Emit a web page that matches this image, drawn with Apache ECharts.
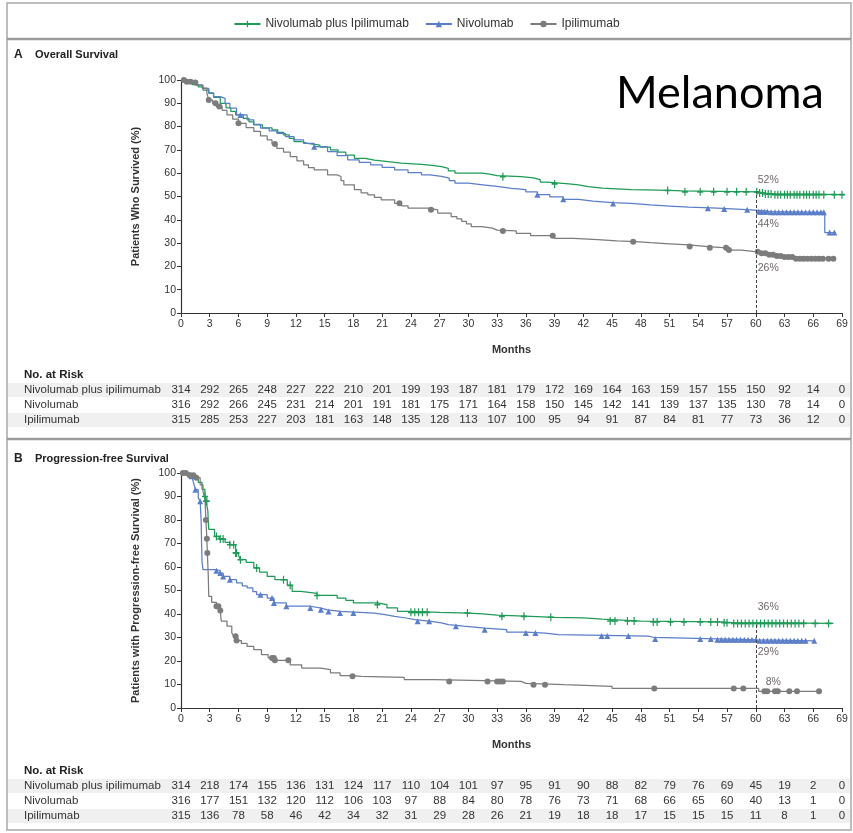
<!DOCTYPE html>
<html>
<head>
<meta charset="utf-8">
<script src="https://cdn.jsdelivr.net/npm/echarts@6/dist/echarts.min.js"></script>
<style>
  html, body { margin: 0; padding: 0; background: #fff; }
  #c { width: 853px; height: 833px; }
</style>
</head>
<body>
<div id="c"></div>
<script>
// ---- Kaplan-Meier curves: [month, percent] step points ----
const osNivoIpi = [[0,100],[0.6,99],[1.2,98],[1.8,97],[2.3,95.7],[2.9,94.3],[3.4,92.5],[4.1,90],[4.7,88],[5.2,86.5],[5.7,85],[6.5,83.5],[7.1,82],[7.6,80.7],[8.5,79.5],[9.5,78.6],[10.1,77.5],[10.7,76.4],[11.3,75],[11.8,73.6],[12.5,72.8],[13.2,72.1],[14.5,71.2],[15.6,70],[16.4,69],[17.2,67.8],[18.1,66.4],[19.2,65.6],[20.2,65],[21.6,64.3],[23,63.8],[25.1,63.4],[26.2,62.8],[27.2,62.1],[27.9,61],[28.6,60],[31.4,59.6],[32.2,59],[33,58.5],[35.5,58],[36.8,57.2],[37.5,56.2],[38.2,55.4],[40.5,55],[41.5,54.2],[42.5,53.6],[44,53],[47,52.6],[51,52.4],[52.3,52],[60.2,51.5],[61,51.1],[62,50.8],[69.2,50.8]];
const osNivo = [[0,100],[0.5,99.4],[1,98.8],[1.6,97.8],[2.3,96.4],[2.9,94.5],[3.4,92.9],[4.1,92.1],[4.6,90],[5.1,87.9],[5.8,85],[6.9,82.9],[7.6,81],[8.3,79.3],[9.2,78.2],[10,77.1],[10.9,75.7],[11.8,74.3],[12.8,72.8],[13.9,71.4],[15.3,69.3],[16.3,67.5],[17.4,65.7],[18.6,64.6],[19.8,63.6],[21,62.5],[22.3,61.4],[23.7,60.3],[25.1,59.3],[26,58.6],[27.2,57.9],[28,56.8],[28.6,55.7],[30,55],[31.5,54.3],[33,53.5],[34.5,53],[36,52],[37.2,50.8],[38.5,49.8],[39.9,48.8],[41.5,48],[43,47.4],[45,47],[47,46.4],[49,45.9],[51,45.4],[53,45],[56,44.6],[58,44.3],[59.5,44],[60.3,43.5],[61.5,43.2],[67.2,34.5],[68.3,34.5]];
const osIpi = [[0,100],[0.6,99.3],[1.2,98.9],[1.6,97.9],[2.2,96.5],[2.7,94.3],[2.9,91.4],[3.3,90],[3.7,88.6],[4.3,87],[4.8,85],[5.4,83.2],[6,81.4],[6.8,79.6],[7.6,77.9],[8.3,76],[9,74.3],[9.5,72.5],[10,70.7],[10.7,69],[11.4,67.1],[12.1,65.3],[12.8,63.6],[13.3,62.4],[13.9,61.4],[15.3,59.3],[16.3,58.6],[16.7,56.8],[17,55],[18.1,52.9],[18.8,51.6],[19.5,50.7],[20.2,49.6],[20.9,48.6],[22.3,47.1],[23,46],[23.7,45],[25.8,44.3],[26.8,42.9],[28.2,41.4],[28.8,40.4],[29.3,39.3],[29.8,38.2],[30.3,37.1],[31.4,36.4],[32.5,35.6],[33,35.2],[35,34.2],[36.5,33.2],[39,32],[41,31.5],[43.5,31],[45.5,30.6],[47.5,30.2],[49,29.7],[51,29.2],[53,28.5],[55,28],[57,27],[58.5,26.5],[59.7,26.3],[60.5,25.6],[61.3,25],[62,24.5],[63,24],[64,23.3],[68.2,23.3]];

const pfsNivoIpi = [[0,100],[1.0,99.5],[1.4,98],[1.8,96],[2.2,93],[2.5,90],[2.6,88],[2.8,84],[2.85,79],[2.9,76],[3.5,73],[4.0,71.9],[4.6,70.5],[5.1,69.5],[5.7,66],[6.0,65],[6.2,63.1],[6.8,62],[7.6,59.6],[8.2,57.8],[9,56],[9.8,54.6],[11.1,52.2],[11.6,49.6],[12.5,48.8],[14.2,47.9],[16.3,46.8],[17.2,45.8],[18,44.7],[20.5,44],[21.5,42.6],[22.6,41.1],[24,40.7],[27,40.4],[30,40.1],[31.5,39.5],[33,39],[36.5,38.6],[39,38.3],[42,37.8],[44,37],[48,36.6],[56.5,36.3],[57.5,36],[68.1,36]];
const pfsNivo = [[0,100],[1.1,98.6],[1.3,96],[1.5,92.9],[1.8,89.4],[2.0,88],[2.1,80],[2.15,70],[2.2,62],[2.3,58.9],[3.7,58.4],[4.1,57.4],[4.4,56],[5.1,54.6],[5.8,53.2],[6.4,52],[6.9,51.1],[7.5,49.5],[7.9,48.2],[9,46.8],[9.7,44.7],[11,43.3],[13.5,42.6],[14.5,41.8],[15.3,41.1],[16.6,40.4],[20.2,39.7],[21.3,39],[22.3,38.3],[23.5,37.6],[24.4,36.9],[26.1,36.2],[27.2,35.5],[27.9,34.8],[29.5,34],[31.7,33.3],[34,32.3],[36,31.9],[38,31.2],[39.4,30.6],[48.8,30.1],[49.3,29.4],[56,29],[60.2,28.6],[66.2,28.6]];
const pfsIpi = [[0,100],[0.8,99],[1.5,98],[2.0,95],[2.3,92],[2.5,89],[2.6,80],[2.7,72],[2.75,66],[2.85,56],[2.9,47.5],[3.2,45],[3.7,43.3],[4.1,41.5],[4.2,37],[4.8,34.8],[5.3,32],[5.5,30.5],[5.8,28.7],[6.3,27.5],[6.9,26.2],[7.6,24.8],[8.4,22.7],[9.1,21.3],[9.8,20.3],[11.4,18.4],[12.6,17],[14.6,16.3],[15.6,14.9],[16.6,13.8],[17.9,13.5],[18.8,13],[23.3,12.1],[26.4,11.3],[35.5,10.5],[36,9.9],[40,9.2],[45,8.3],[60.3,7.1],[66.8,7.1]];

// ---- censoring times (months) ----
const osCensNivoIpi = [33.6,39,50.8,52.6,54.2,55.6,57,58,59,60.1,60.4,60.7,61,61.3,61.6,62,62.3,62.6,63,63.3,63.6,64,64.3,64.6,65,65.3,65.6,66,66.3,66.6,67.1,68.2,69];
const osCensNivo = [6.2,13.9,37.2,39.9,45.1,55,56.7,59.1,60.3,60.6,60.9,61.2,61.6,62,62.4,62.8,63.2,63.6,64,64.4,64.8,65.2,65.6,66,66.4,66.8,67.1,67.7,68.2];
const osCensIpi = [0.3,0.6,1.0,1.5,2.9,3.6,4.0,6.0,9.8,22.8,26.1,33.6,38.8,47.2,53.1,55.2,56.9,57.2,60.2,60.6,61,61.4,61.8,62.2,62.6,63,63.4,63.8,64.2,64.6,65,65.4,65.8,66.2,66.6,67,67.6,68.1];
const pfsCensNivoIpi = [2.5,2.6,2.7,3.7,4.1,4.4,5.1,5.5,5.7,5.8,6.2,7.9,10.7,11.4,14.2,20.5,24,24.4,24.8,25.2,25.7,29.9,33.5,35.8,38.6,44.8,45.3,46.6,47.3,49.3,49.7,51.1,52.5,54.2,55.3,56,56.7,57,57.7,58.1,58.5,58.9,59.3,59.7,60.1,60.5,60.9,61.3,61.7,62.1,62.5,62.9,63.3,63.7,64.1,64.5,65,66.2,67.6];
const pfsCensNivo = [1.1,1.5,2.0,3.7,4.1,4.4,5.1,8.3,9.5,9.7,11,13.5,14.6,15.4,16.6,18,24.7,25.9,28.7,31.7,36,37,43.9,44.5,46.7,49.5,54.2,55.3,56,56.4,56.8,57.2,57.6,58,58.4,58.8,59.2,59.6,60,60.4,60.8,61.2,61.6,62,62.4,62.8,63.2,63.6,64,64.4,64.8,65.2,66.1];
const pfsCensIpi = [0.2,0.5,0.9,1.3,1.6,2.6,2.7,2.75,3.7,3.9,4.1,5.7,5.8,9.5,9.7,9.8,11.2,17.9,28,32,33,33.3,33.6,36.8,38,49.4,57.7,58.7,60.9,61.2,62,62.3,63.5,64.3,66.6];

// ---- number at risk ----
const riskMonths = [0,3,6,9,12,15,18,21,24,27,30,33,36,39,42,45,48,51,54,57,60,63,66,69];
const osRiskNivoIpi = [314,292,265,248,227,222,210,201,199,193,187,181,179,172,169,164,163,159,157,155,150,92,14,0];
const osRiskNivo = [316,292,266,245,231,214,201,191,181,175,171,164,158,150,145,142,141,139,137,135,130,78,14,0];
const osRiskIpi = [315,285,253,227,203,181,163,148,135,128,113,107,100,95,94,91,87,84,81,77,73,36,12,0];
const pfsRiskNivoIpi = [314,218,174,155,136,131,124,117,110,104,101,97,95,91,90,88,82,79,76,69,45,19,2,0];
const pfsRiskNivo = [316,177,151,132,120,112,106,103,97,88,84,80,78,76,73,71,68,66,65,60,40,13,1,0];
const pfsRiskIpi = [315,136,78,58,46,42,34,32,31,29,28,26,21,19,18,18,17,15,15,15,11,8,1,0];

const seriesNames = ['Nivolumab plus Ipilimumab', 'Nivolumab', 'Ipilimumab'];
const riskRowNames = ['Nivolumab plus ipilimumab', 'Nivolumab', 'Ipilimumab'];
const landmarkMonth = 60;

// ---- styling ----
const FONT = "'Liberation Sans', Arial, sans-serif";
const INK = '#333';
const COLORS = ['#1e9b57', '#5b7ec9', '#7c7c7c'];
const SYMBOLS = ['path://M2,0H3V2H5V3H3V5H2V3H0V2H2Z', 'triangle', 'circle'];
const SYM_SIZE = [[6, 8], 6, 6];

// value of a step curve at time t
function valueAt(curve, t) {
  let v = curve[0][1];
  for (const p of curve) { if (p[0] <= t) v = p[1]; else break; }
  return v;
}

const panels = [
  { letter: 'A', title: 'Overall Survival', yName: 'Patients Who Survived (%)',
    curves: [osNivoIpi, osNivo, osIpi], cens: [osCensNivoIpi, osCensNivo, osCensIpi],
    risk: [osRiskNivoIpi, osRiskNivo, osRiskIpi],
    grid: { left: 181, top: 80, width: 661, height: 233 },
    labelOffset: [[0, -12], [0, 14], [0, 16]], headerY: 55, riskY: [375, 390, 405, 420] },
  { letter: 'B', title: 'Progression-free Survival', yName: 'Patients with Progression-free Survival (%)',
    curves: [pfsNivoIpi, pfsNivo, pfsIpi], cens: [pfsCensNivoIpi, pfsCensNivo, pfsCensIpi],
    risk: [pfsRiskNivoIpi, pfsRiskNivo, pfsRiskIpi],
    grid: { left: 181, top: 473, width: 661, height: 235 },
    labelOffset: [[0, -16], [0, 12], [8, -6]], headerY: 459, riskY: [771, 786, 801, 816] }
];

const grids = [], xAxes = [], yAxes = [], series = [];
panels.forEach((p, gi) => {
  grids.push(p.grid);
  xAxes.push({
    gridIndex: gi, type: 'value', min: 0, max: 69, interval: 3,
    axisLine: { show: true, lineStyle: { color: INK, width: 1.2 } },
    axisTick: { show: true, length: 4, lineStyle: { color: INK } },
    axisLabel: { fontSize: 10.5, color: INK, fontFamily: FONT, margin: 6 },
    splitLine: { show: false },
    name: 'Months', nameLocation: 'middle', nameGap: 31,
    nameTextStyle: { fontSize: 11, fontWeight: 'bold', color: INK, fontFamily: FONT }
  });
  yAxes.push({
    gridIndex: gi, type: 'value', min: 0, max: 100, interval: 10,
    axisLine: { show: true, lineStyle: { color: INK, width: 1.2 } },
    axisTick: { show: true, length: 4, lineStyle: { color: INK } },
    axisLabel: { fontSize: 10.5, color: INK, fontFamily: FONT, margin: 5 },
    splitLine: { show: false },
    name: p.yName, nameLocation: 'middle', nameGap: 40, nameRotate: 90,
    nameTextStyle: { fontSize: 11, fontWeight: 'bold', color: INK, fontFamily: FONT }
  });
  p.curves.forEach((curve, k) => {
    series.push({
      type: 'line', name: seriesNames[k], xAxisIndex: gi, yAxisIndex: gi,
      data: curve, step: 'end', symbol: SYMBOLS[k], symbolSize: SYM_SIZE[k], showSymbol: false,
      lineStyle: { color: COLORS[k], width: 1.25 }, itemStyle: { color: COLORS[k] },
      silent: true, z: 2
    });
    series.push({
      type: 'scatter', xAxisIndex: gi, yAxisIndex: gi,
      data: p.cens[k].map(t => [t, valueAt(curve, t)]),
      symbol: SYMBOLS[k], symbolSize: SYM_SIZE[k],
      itemStyle: { color: COLORS[k], opacity: 1 }, silent: true, z: 3
    });
  });
  // landmark percentages at 60 months plus the dashed reference line
  series.push({
    type: 'scatter', xAxisIndex: gi, yAxisIndex: gi, symbolSize: 0, silent: true, z: 4,
    data: p.curves.map((c, k) => ({
      value: [landmarkMonth, valueAt(c, landmarkMonth)],
      label: { offset: p.labelOffset[k] }
    })),
    label: {
      show: true, position: 'right', distance: 2,
      formatter: d => Math.round(d.value[1]) + '%',
      fontSize: 10.5, color: '#4a4040', fontFamily: FONT
    },
    markLine: {
      silent: true, symbol: ['none', 'none'], label: { show: false },
      lineStyle: { color: '#444', type: [3, 2], width: 1 },
      data: [[{ coord: [landmarkMonth, 0] }, { coord: [landmarkMonth, valueAt(p.curves[0], landmarkMonth)] }]]
    }
  });
});

const chart = echarts.init(document.getElementById('c'));
chart.setOption({
  animation: false,
  backgroundColor: '#fff',
  textStyle: { fontFamily: FONT },
  legend: {
    data: seriesNames, top: 13, left: 'center',
    itemWidth: 26, itemHeight: 8, itemGap: 16,
    textStyle: { fontSize: 12, color: INK, fontFamily: FONT }
  },
  grid: grids, xAxis: xAxes, yAxis: yAxes, series: series
});

// frame, panel headings and the number-at-risk tables
const g = [];
g.push({ type: 'rect', shape: { x: 7, y: 3, width: 844, height: 827 },
  style: { fill: 'none', stroke: '#a8a8a8', lineWidth: 1.5 }, z: 0 });
[39, 439].forEach(y => g.push({ type: 'line', shape: { x1: 7, y1: y, x2: 851, y2: y },
  style: { stroke: '#9a9a9a', lineWidth: 2.5 }, z: 0 }));

panels.forEach((p, gi) => {
  g.push({ type: 'text', style: { x: 14, y: p.headerY, text: p.letter, font: 'bold 12px ' + FONT,
    fill: '#222', textVerticalAlign: 'middle' } });
  g.push({ type: 'text', style: { x: 35, y: p.headerY, text: p.title, font: 'bold 11px ' + FONT,
    fill: '#222', textVerticalAlign: 'middle' } });
  g.push({ type: 'text', style: { x: 24, y: p.riskY[0], text: 'No. at Risk', font: 'bold 11.5px ' + FONT,
    fill: '#222', textVerticalAlign: 'middle' } });
  [0, 2].forEach(r => g.push({ type: 'rect', z: -1,
    shape: { x: 8, y: p.riskY[r + 1] - 7, width: 842, height: 14 },
    style: { fill: '#f0f0f0' } }));
  p.risk.forEach((row, r) => {
    const y = p.riskY[r + 1];
    g.push({ type: 'text', style: { x: 24, y: y, text: riskRowNames[r], font: '11.5px ' + FONT,
      fill: INK, textVerticalAlign: 'middle' } });
    row.forEach((n, i) => {
      const x = chart.convertToPixel({ xAxisIndex: gi }, riskMonths[i]);
      g.push({ type: 'text', style: { x: x, y: y, text: String(n), font: '11.5px ' + FONT,
        fill: INK, textAlign: 'center', textVerticalAlign: 'middle' } });
    });
  });
});

g.push({ type: 'text', style: { x: 616, y: 93, text: 'Melanoma', font: '45px Lato, ' + FONT,
  fill: '#000', textVerticalAlign: 'middle' } });

chart.setOption({ graphic: g });
</script>
</body>
</html>
